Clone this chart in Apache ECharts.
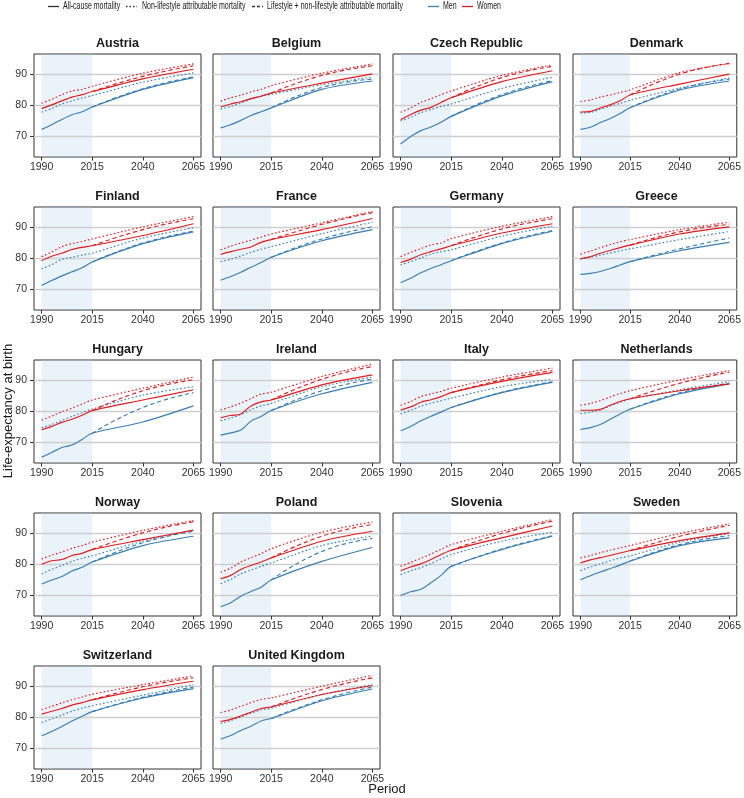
<!DOCTYPE html>
<html><head><meta charset="utf-8">
<script src="https://cdn.jsdelivr.net/npm/echarts@6/dist/echarts.min.js"></script>
<style>html,body{margin:0;padding:0;background:#fff}#c{width:744px;height:798px}</style>
</head><body><div id="c"></div>
<script>
const countries = ['Austria','Belgium','Czech Republic','Denmark','Finland','France','Germany','Greece','Hungary','Ireland','Italy','Netherlands','Norway','Poland','Slovenia','Sweden','Switzerland','United Kingdom'];
const years = [1990,1995,2000,2005,2010,2015,2040,2065];
const projYears = [2015,2040,2065];
const xTicks = [1990,2015,2040,2065];
const yTicks = [70,80,90];
const shadeRange = [1990,2015];

// All-cause mortality (solid), values at `years`
const menAllCause = [
 [72.1,73.6,75.3,76.8,77.8,79.3,85.0,88.8], // Austria
 [72.6,73.6,75.0,76.6,77.8,79.0,85.0,87.7], // Belgium
 [67.4,69.8,71.7,72.9,74.4,76.3,82.9,87.5], // Czech Republic
 [72.1,72.8,74.3,75.6,77.2,79.1,84.8,87.7], // Denmark
 [71.1,72.7,74.2,75.5,76.8,78.7,84.6,88.4], // Finland
 [72.8,74.0,75.4,77.0,78.5,80.2,85.5,89.1], // France
 [72.0,73.4,75.2,76.6,77.8,79.1,84.6,88.6], // Germany
 [74.7,75.0,75.6,76.6,77.7,78.8,82.3,85.0], // Greece
 [65.1,66.6,68.2,69.0,70.8,72.8,76.4,81.6], // Hungary
 [72.2,72.9,73.8,76.7,78.2,80.1,85.5,89.2], // Ireland
 [73.6,75.0,76.8,78.3,79.6,81.1,85.9,89.2], // Italy
 [74.0,74.6,75.6,77.3,79.0,80.5,85.5,88.7], // Netherlands
 [73.5,74.8,75.9,77.7,78.9,80.6,85.9,88.9], // Norway
 [66.2,67.5,69.6,71.1,72.5,74.8,80.8,85.3], // Poland
 [69.8,71.0,71.8,73.9,76.3,79.2,84.6,88.9], // Slovenia
 [74.9,76.2,77.4,78.5,79.6,80.9,85.9,88.4], // Sweden
 [73.9,75.3,76.9,78.7,80.2,81.7,86.1,89.1], // Switzerland
 [72.8,74.0,75.6,77.0,78.7,79.5,85.2,89.0]  // United Kingdom
];
const womenAllCause = [
 [78.8,80.0,81.3,82.5,83.3,84.3,88.4,91.5],
 [79.3,80.3,81.0,82.0,82.8,83.8,87.0,90.0],
 [75.2,76.9,78.3,79.2,80.8,82.3,87.5,91.0],
 [77.7,77.9,79.0,80.0,81.3,83.2,86.7,89.9],
 [79.1,80.5,81.5,82.7,83.4,83.9,87.2,91.0],
 [81.1,82.0,82.8,83.5,85.0,85.9,89.1,92.7],
 [78.5,79.6,81.0,82.0,82.9,83.9,88.0,91.0],
 [79.7,80.4,81.5,82.4,83.3,84.1,87.7,90.0],
 [73.9,75.0,76.3,77.3,78.6,80.1,83.5,86.8],
 [77.8,78.5,79.0,81.6,82.9,83.5,88.4,91.6],
 [80.3,81.3,82.8,83.6,84.6,85.9,89.5,92.4],
 [80.2,80.2,80.5,81.8,83.0,83.9,86.5,88.7],
 [79.9,81.0,81.4,82.7,83.4,84.6,87.8,90.9],
 [75.2,76.3,78.2,79.5,80.6,81.9,87.3,90.5],
 [77.8,79.0,80.0,81.4,83.0,84.4,88.4,92.2],
 [80.3,81.3,82.0,82.7,83.5,84.3,87.5,90.0],
 [80.9,81.8,82.7,83.8,84.6,85.5,88.8,91.5],
 [78.5,79.2,80.3,81.5,82.7,83.2,87.2,90.1]
];
// Non-lifestyle attributable mortality (dotted), values at `years`
const menNonLifestyle = [
 [77.6,78.8,80.3,81.3,82.2,83.0,87.3,90.3],
 [78.7,79.5,80.6,81.8,82.8,83.4,86.5,89.0],
 [74.8,76.0,77.5,78.5,79.5,80.3,85.3,88.9],
 [77.4,77.6,78.6,79.6,80.5,81.5,85.4,88.7],
 [76.5,77.8,79.5,80.2,80.9,81.5,86.4,89.7],
 [78.8,79.6,80.6,81.8,82.8,83.6,87.8,91.5],
 [77.7,78.8,80.0,81.2,82.0,82.6,87.0,90.2],
 [79.6,80.2,80.9,81.6,82.3,82.9,85.9,88.5],
 [74.6,75.6,76.9,78.2,79.4,80.6,85.1,87.8],
 [76.8,77.7,78.8,80.4,81.6,82.4,87.8,90.9],
 [79.0,80.2,81.5,82.5,83.3,84.1,87.8,90.2],
 [79.1,79.6,80.3,81.6,82.8,83.8,86.8,89.5],
 [76.8,78.2,79.5,80.8,81.8,82.6,87.3,90.9],
 [73.6,75.0,76.8,78.0,79.2,80.3,85.9,89.0],
 [76.5,77.8,78.8,80.1,81.6,83.0,87.3,90.2],
 [77.8,79.0,80.0,81.0,81.9,82.6,87.0,89.8],
 [78.2,79.3,80.6,81.8,82.8,83.6,87.0,90.4],
 [77.9,78.8,80.0,81.2,82.2,82.8,87.2,90.4]
];
const womenNonLifestyle = [
 [80.5,81.8,83.3,84.5,85.0,86.0,90.2,93.2],
 [81.2,82.3,83.1,84.2,85.0,86.2,90.2,93.2],
 [77.6,79.0,80.8,82.0,83.3,84.5,89.5,92.9],
 [81.1,81.6,82.5,83.2,84.0,84.8,90.4,93.3],
 [80.4,81.9,83.6,84.6,85.3,86.1,90.0,93.3],
 [82.6,83.8,84.8,85.7,86.7,87.7,91.3,95.0],
 [80.4,81.8,83.0,84.2,84.8,86.2,90.2,93.3],
 [81.2,82.2,83.3,84.3,85.2,85.9,89.1,91.5],
 [77.0,78.3,79.7,80.9,82.2,83.5,87.3,90.9],
 [80.3,81.3,82.5,84.0,85.4,86.0,91.1,95.1],
 [81.8,83.0,84.6,85.5,86.3,87.3,90.9,93.8],
 [81.8,82.4,83.3,84.5,85.6,86.5,90.0,93.0],
 [81.6,82.8,83.8,85.0,85.9,87.0,90.8,94.0],
 [77.3,78.6,80.6,82.0,83.3,84.9,90.2,93.5],
 [79.2,80.5,81.8,83.2,84.7,86.2,90.5,94.3],
 [81.9,82.7,83.6,84.4,85.2,85.9,89.8,92.9],
 [82.3,83.4,84.5,85.5,86.4,87.3,90.4,93.2],
 [81.4,82.2,83.4,84.6,85.6,86.1,89.9,93.4]
];
// Lifestyle + non-lifestyle attributable mortality (dashed), values at `projYears`
const menLifestyle = [
 [79.3,85.2,89.0],[79.0,85.6,88.3],[76.3,83.3,87.8],[79.1,85.1,88.3],
 [78.7,84.8,88.6],[80.2,86.1,90.0],[79.1,84.8,88.8],[78.8,82.9,86.4],
 [72.8,81.1,85.9],[80.1,86.5,90.2],[81.1,86.0,89.4],[80.5,85.8,88.9],
 [80.6,86.8,90.5],[74.8,84.0,88.2],[79.2,84.8,89.1],[80.9,86.2,89.1],
 [81.7,86.3,89.6],[79.5,85.5,89.6]
];
const womenLifestyle = [
 [84.3,89.2,92.6],[83.8,89.5,92.6],[82.3,88.8,92.4],[83.2,89.9,93.4],
 [83.9,89.1,92.6],[85.9,90.8,94.6],[83.9,89.3,92.6],[84.1,88.4,90.8],
 [80.1,86.5,90.0],[83.5,90.2,94.3],[85.9,90.0,93.0],[83.9,88.9,92.5],
 [84.6,90.0,93.6],[81.9,88.9,92.7],[84.4,89.8,93.8],[84.3,88.9,92.4],
 [85.5,89.7,92.6],[83.2,88.8,92.6]
];

const MEN = '#377EB8', WOMEN = '#E41A1C';
const colLeft = [34, 213, 393, 573], rowTop = [54, 207, 360, 513, 666];
const W = 167, H = 103;
const dotted = [1.6, 2.2], dashed = [4.2, 3];

const grid = [], xAxis = [], yAxis = [], series = [], graphic = [];
const pairs = (xs, vs) => xs.map((x, k) => [x, vs[k]]);

countries.forEach((name, i) => {
  const col = i % 4, row = Math.floor(i / 4);
  const left = colLeft[col], top = rowTop[row];
  grid.push({left, top, width: W, height: H, show: true, borderColor: '#333', borderWidth: 1, backgroundColor: 'transparent'});
  xAxis.push({type: 'value', gridIndex: i, min: 1986.25, max: 2068.75,
    axisLine: {show: false}, splitLine: {show: false},
    axisTick: {show: true, length: 3.5, customValues: xTicks, lineStyle: {color: '#333'}},
    axisLabel: {customValues: xTicks, fontSize: 10.5, color: '#333', margin: 5, fontFamily: 'Liberation Sans', formatter: v => String(v)}});
  yAxis.push({type: 'value', gridIndex: i, min: 63.2, max: 96.4,
    axisLine: {show: false}, splitLine: {show: false},
    axisTick: {show: col === 0, length: 4, customValues: yTicks, lineStyle: {color: '#333'}},
    axisLabel: {show: col === 0, customValues: yTicks, fontSize: 10.5, color: '#333', margin: 7, fontFamily: 'Liberation Sans', formatter: v => String(v)}});
  // background: period shading + horizontal grid lines
  series.push({type: 'line', xAxisIndex: i, yAxisIndex: i, data: [], z: 1, silent: true,
    markArea: {silent: true, z: 1, itemStyle: {color: 'rgba(180,213,235,0.28)'}, data: [[{xAxis: shadeRange[0]}, {xAxis: shadeRange[1]}]]},
    markLine: {silent: true, z: 1, symbol: ['none', 'none'], label: {show: false}, animation: false,
      lineStyle: {color: '#cfcfcf', width: 1.4, type: 'solid'}, data: yTicks.map(v => ({yAxis: v}))}});
  const mk = (data, color, type, sm) => ({type: 'line', xAxisIndex: i, yAxisIndex: i, data, z: 3,
    showSymbol: false, symbol: 'none', smooth: sm, silent: true,
    lineStyle: {color, width: 1.15, type}});
  series.push(mk(pairs(years, menNonLifestyle[i]), MEN, dotted, 0.3));
  series.push(mk(pairs(projYears, menLifestyle[i]), MEN, dashed, 0.5));
  series.push(mk(pairs(years, menAllCause[i]), MEN, 'solid', 0.3));
  series.push(mk(pairs(years, womenNonLifestyle[i]), WOMEN, dotted, 0.3));
  series.push(mk(pairs(projYears, womenLifestyle[i]), WOMEN, dashed, 0.5));
  series.push(mk(pairs(years, womenAllCause[i]), WOMEN, 'solid', 0.3));
  graphic.push({type: 'text', x: left + W / 2, y: top - 10, silent: true,
    style: {text: name, fill: '#1a1a1a', font: 'bold 12.5px "Liberation Sans", Arial, sans-serif', align: 'center', verticalAlign: 'middle', textAlign: 'center', textVerticalAlign: 'middle'}});
});

// legend
const legFont = '10px "Liberation Sans", Arial, sans-serif';
const legY = 6.5;
const legItems = [
  {x1: 48, x2: 59, stroke: '#333', dash: null, text: 'All-cause mortality', tx: 63},
  {x1: 126, x2: 137, stroke: '#333', dash: [1.5, 2], text: 'Non-lifestyle attributable mortality', tx: 142},
  {x1: 252, x2: 263, stroke: '#333', dash: [3, 2], text: 'Lifestyle + non-lifestyle attributable mortality', tx: 267},
  {x1: 428, x2: 439, stroke: MEN, dash: null, text: 'Men', tx: 443},
  {x1: 462, x2: 473, stroke: WOMEN, dash: null, text: 'Women', tx: 477}
];
legItems.forEach(it => {
  graphic.push({type: 'line', silent: true, shape: {x1: it.x1, y1: legY, x2: it.x2, y2: legY},
    style: {stroke: it.stroke, lineWidth: 1.3, lineDash: it.dash}});
  graphic.push({type: 'text', x: it.tx, y: legY, scaleX: 0.7, silent: true,
    style: {text: it.text, fill: '#1a1a1a', font: legFont, align: 'left', verticalAlign: 'middle', textAlign: 'left', textVerticalAlign: 'middle'}});
});
// axis titles
graphic.push({type: 'text', x: 8, y: 411, rotation: Math.PI / 2, silent: true,
  style: {text: 'Life-expectancy at birth', fill: '#1a1a1a', font: '13px "Liberation Sans", Arial, sans-serif', align: 'center', verticalAlign: 'middle', textAlign: 'center', textVerticalAlign: 'middle'}});
graphic.push({type: 'text', x: 387, y: 789, silent: true,
  style: {text: 'Period', fill: '#1a1a1a', font: '13px "Liberation Sans", Arial, sans-serif', align: 'center', verticalAlign: 'middle', textAlign: 'center', textVerticalAlign: 'middle'}});

const chart = echarts.init(document.getElementById('c'), null, {renderer: 'canvas'});
chart.setOption({animation: false, backgroundColor: '#fff', grid, xAxis, yAxis, series, graphic});
</script></body></html>
